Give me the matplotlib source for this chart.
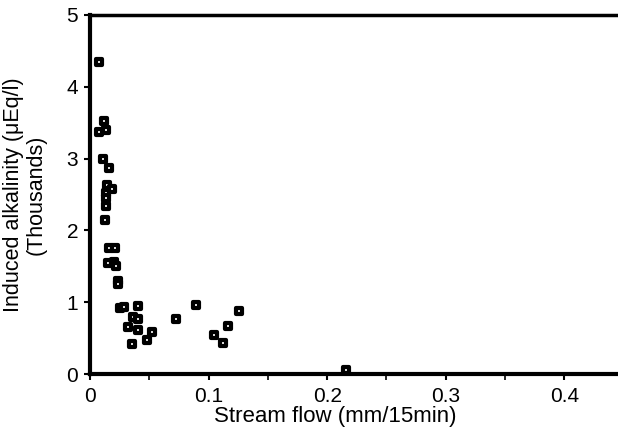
import matplotlib
matplotlib.use("Agg")
import matplotlib.pyplot as plt
from matplotlib.ticker import MultipleLocator
from matplotlib.markers import MarkerStyle

plt.rcParams['font.family'] = ['Liberation Sans', 'DejaVu Sans']

flow = [0.0076, 0.0115, 0.0078, 0.0135, 0.0107, 0.016, 0.0141, 0.0185, 0.0138,
        0.0138, 0.0138, 0.0126, 0.016, 0.0208, 0.0154, 0.0202, 0.0219, 0.0236,
        0.0236, 0.0253, 0.0289, 0.0402, 0.036, 0.0405, 0.0323, 0.0405, 0.0523,
        0.048, 0.0354, 0.0723, 0.0894, 0.1043, 0.1124, 0.1161, 0.1254, 0.2156]
alk = [4.34, 3.53, 3.37, 3.40, 2.99, 2.87, 2.63, 2.58, 2.52,
       2.45, 2.34, 2.14, 1.75, 1.75, 1.54, 1.56, 1.51, 1.30,
       1.25, 0.92, 0.93, 0.95, 0.79, 0.76, 0.65, 0.61, 0.58,
       0.47, 0.42, 0.76, 0.96, 0.54, 0.43, 0.67, 0.88, 0.05]
xticks = [0, 0.1, 0.2, 0.3, 0.4]
xticklabels = ['0', '0.1', '0.2', '0.3', '0.4']
yticks = [0, 1, 2, 3, 4, 5]

fig = plt.figure(figsize=(6.18, 4.32), dpi=100)
ax = fig.add_axes([90/618, 58/432, 1 - 90/618, (374-15)/432])
ax.plot(flow, alk, linestyle='none',
        marker=MarkerStyle('s', joinstyle='round'), markersize=5.0,
        markerfacecolor='white', markeredgecolor='black', markeredgewidth=3.0,
        clip_on=False)

ax.set_xlim(0, 0.4452)
ax.set_ylim(0, 5)
ax.set_xticks(xticks)
ax.set_xticklabels(xticklabels)
ax.xaxis.set_minor_locator(MultipleLocator(0.05))
ax.set_yticks(yticks)

ax.spines['right'].set_visible(False)
ax.spines['left'].set_linewidth(3)
ax.spines['bottom'].set_linewidth(3)
ax.spines['top'].set_linewidth(2.5)
ax.tick_params(axis='both', which='major', direction='out', length=4.5, width=1.5,
               labelsize=15)
ax.tick_params(axis='y', which='major', pad=4)
ax.tick_params(axis='x', which='major', pad=5)
ax.tick_params(axis='x', which='minor', direction='out', length=4, width=1.2)

ax.set_xlabel('Stream flow (mm/15min)', fontsize=16)
ax.xaxis.set_label_coords(0.464, -0.088)
ax.set_ylabel('Induced alkalinity (\u03bcEq/l)\n(Thousands)', fontsize=15.5,
              linespacing=1.1)
ax.yaxis.set_label_coords(-0.083, 0.5)

fig.savefig('out.png', dpi=100)
